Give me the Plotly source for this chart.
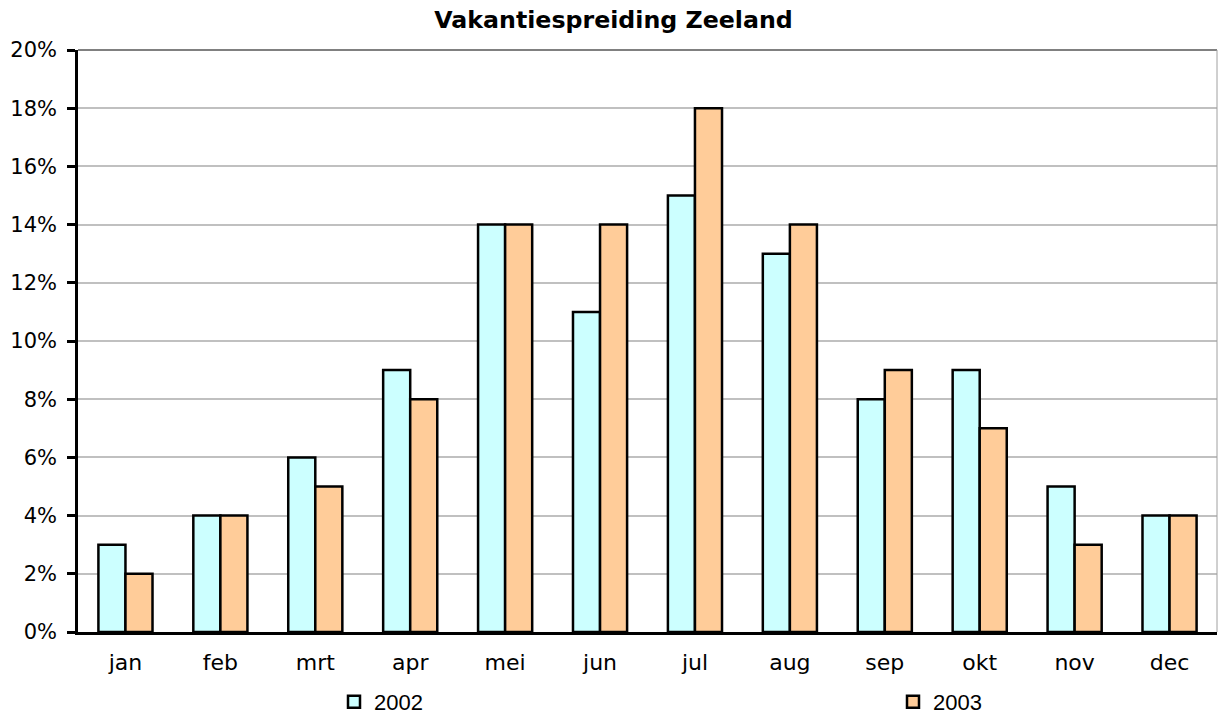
import plotly.graph_objects as go

months = ["jan", "feb", "mrt", "apr", "mei", "jun", "jul", "aug", "sep", "okt", "nov", "dec"]
v2002 = [3, 4, 6, 9, 14, 11, 15, 13, 8, 9, 5, 4]
v2003 = [2, 4, 5, 8, 14, 14, 18, 14, 9, 7, 3, 4]
ytick_vals = [0, 2, 4, 6, 8, 10, 12, 14, 16, 18, 20]
ytick_text = [f"{v}%" for v in ytick_vals]

FONT = "DejaVu Sans"
W, H = 1220, 717

fig = go.Figure()
fig.add_trace(go.Bar(x=months, y=v2002, name="2002", legend="legend",
                     marker=dict(color="#CCFFFF", line=dict(color="black", width=2.5))))
fig.add_trace(go.Bar(x=months, y=v2003, name="2003", legend="legend2",
                     marker=dict(color="#FFCC99", line=dict(color="black", width=2.5))))

legend_common = dict(xref="container", yref="container", xanchor="left",
                     y=1 - 702 / H, yanchor="middle", bgcolor="rgba(0,0,0,0)",
                     font=dict(family="Liberation Sans", size=22, color="black"),
                     itemwidth=30, tracegroupgap=0)

fig.update_layout(
    width=W, height=H,
    margin=dict(l=78, r=3, t=50, b=85, autoexpand=False),
    paper_bgcolor="white", plot_bgcolor="white",
    barmode="group", bargap=0.43, bargroupgap=0,
    title=dict(text="<b>Vakantiespreiding Zeeland</b>", x=613.5 / W, xanchor="center",
               xref="container", y=1 - 20 / H, yanchor="middle",
               font=dict(family=FONT, size=23.7, color="black")),
    font=dict(family=FONT, size=22, color="black"),
    showlegend=True,
    legend=dict(x=334 / W, **legend_common),
    legend2=dict(x=893 / W, **legend_common),
    xaxis=dict(showline=True, linecolor="black", linewidth=2.5, ticks="",
               ticklabelstandoff=9,
               tickfont=dict(family=FONT, size=22), showgrid=False, automargin=False),
    yaxis=dict(range=[0, 20], tickvals=ytick_vals, ticktext=ytick_text,
               showline=True, linecolor="black", linewidth=2.5, ticks="outside",
               ticklen=8, tickwidth=2.5, tickcolor="black", ticklabelstandoff=6,
               showgrid=True, gridcolor="#C0C0C0", gridwidth=2,
               tickfont=dict(family=FONT, size=21), zeroline=False, automargin=False),
)
# plot area border (top and right), gray
fig.add_shape(type="line", xref="paper", yref="paper", x0=0, x1=1, y0=1, y1=1,
              line=dict(color="#808080", width=2))
fig.add_shape(type="line", xref="paper", yref="paper", x0=1, x1=1, y0=0, y1=1,
              line=dict(color="#A0A0A0", width=1))

fig.write_html("out.html", config={"displayModeBar": False},
               post_script="document.body.style.margin='0px';document.body.style.overflow='hidden';")
